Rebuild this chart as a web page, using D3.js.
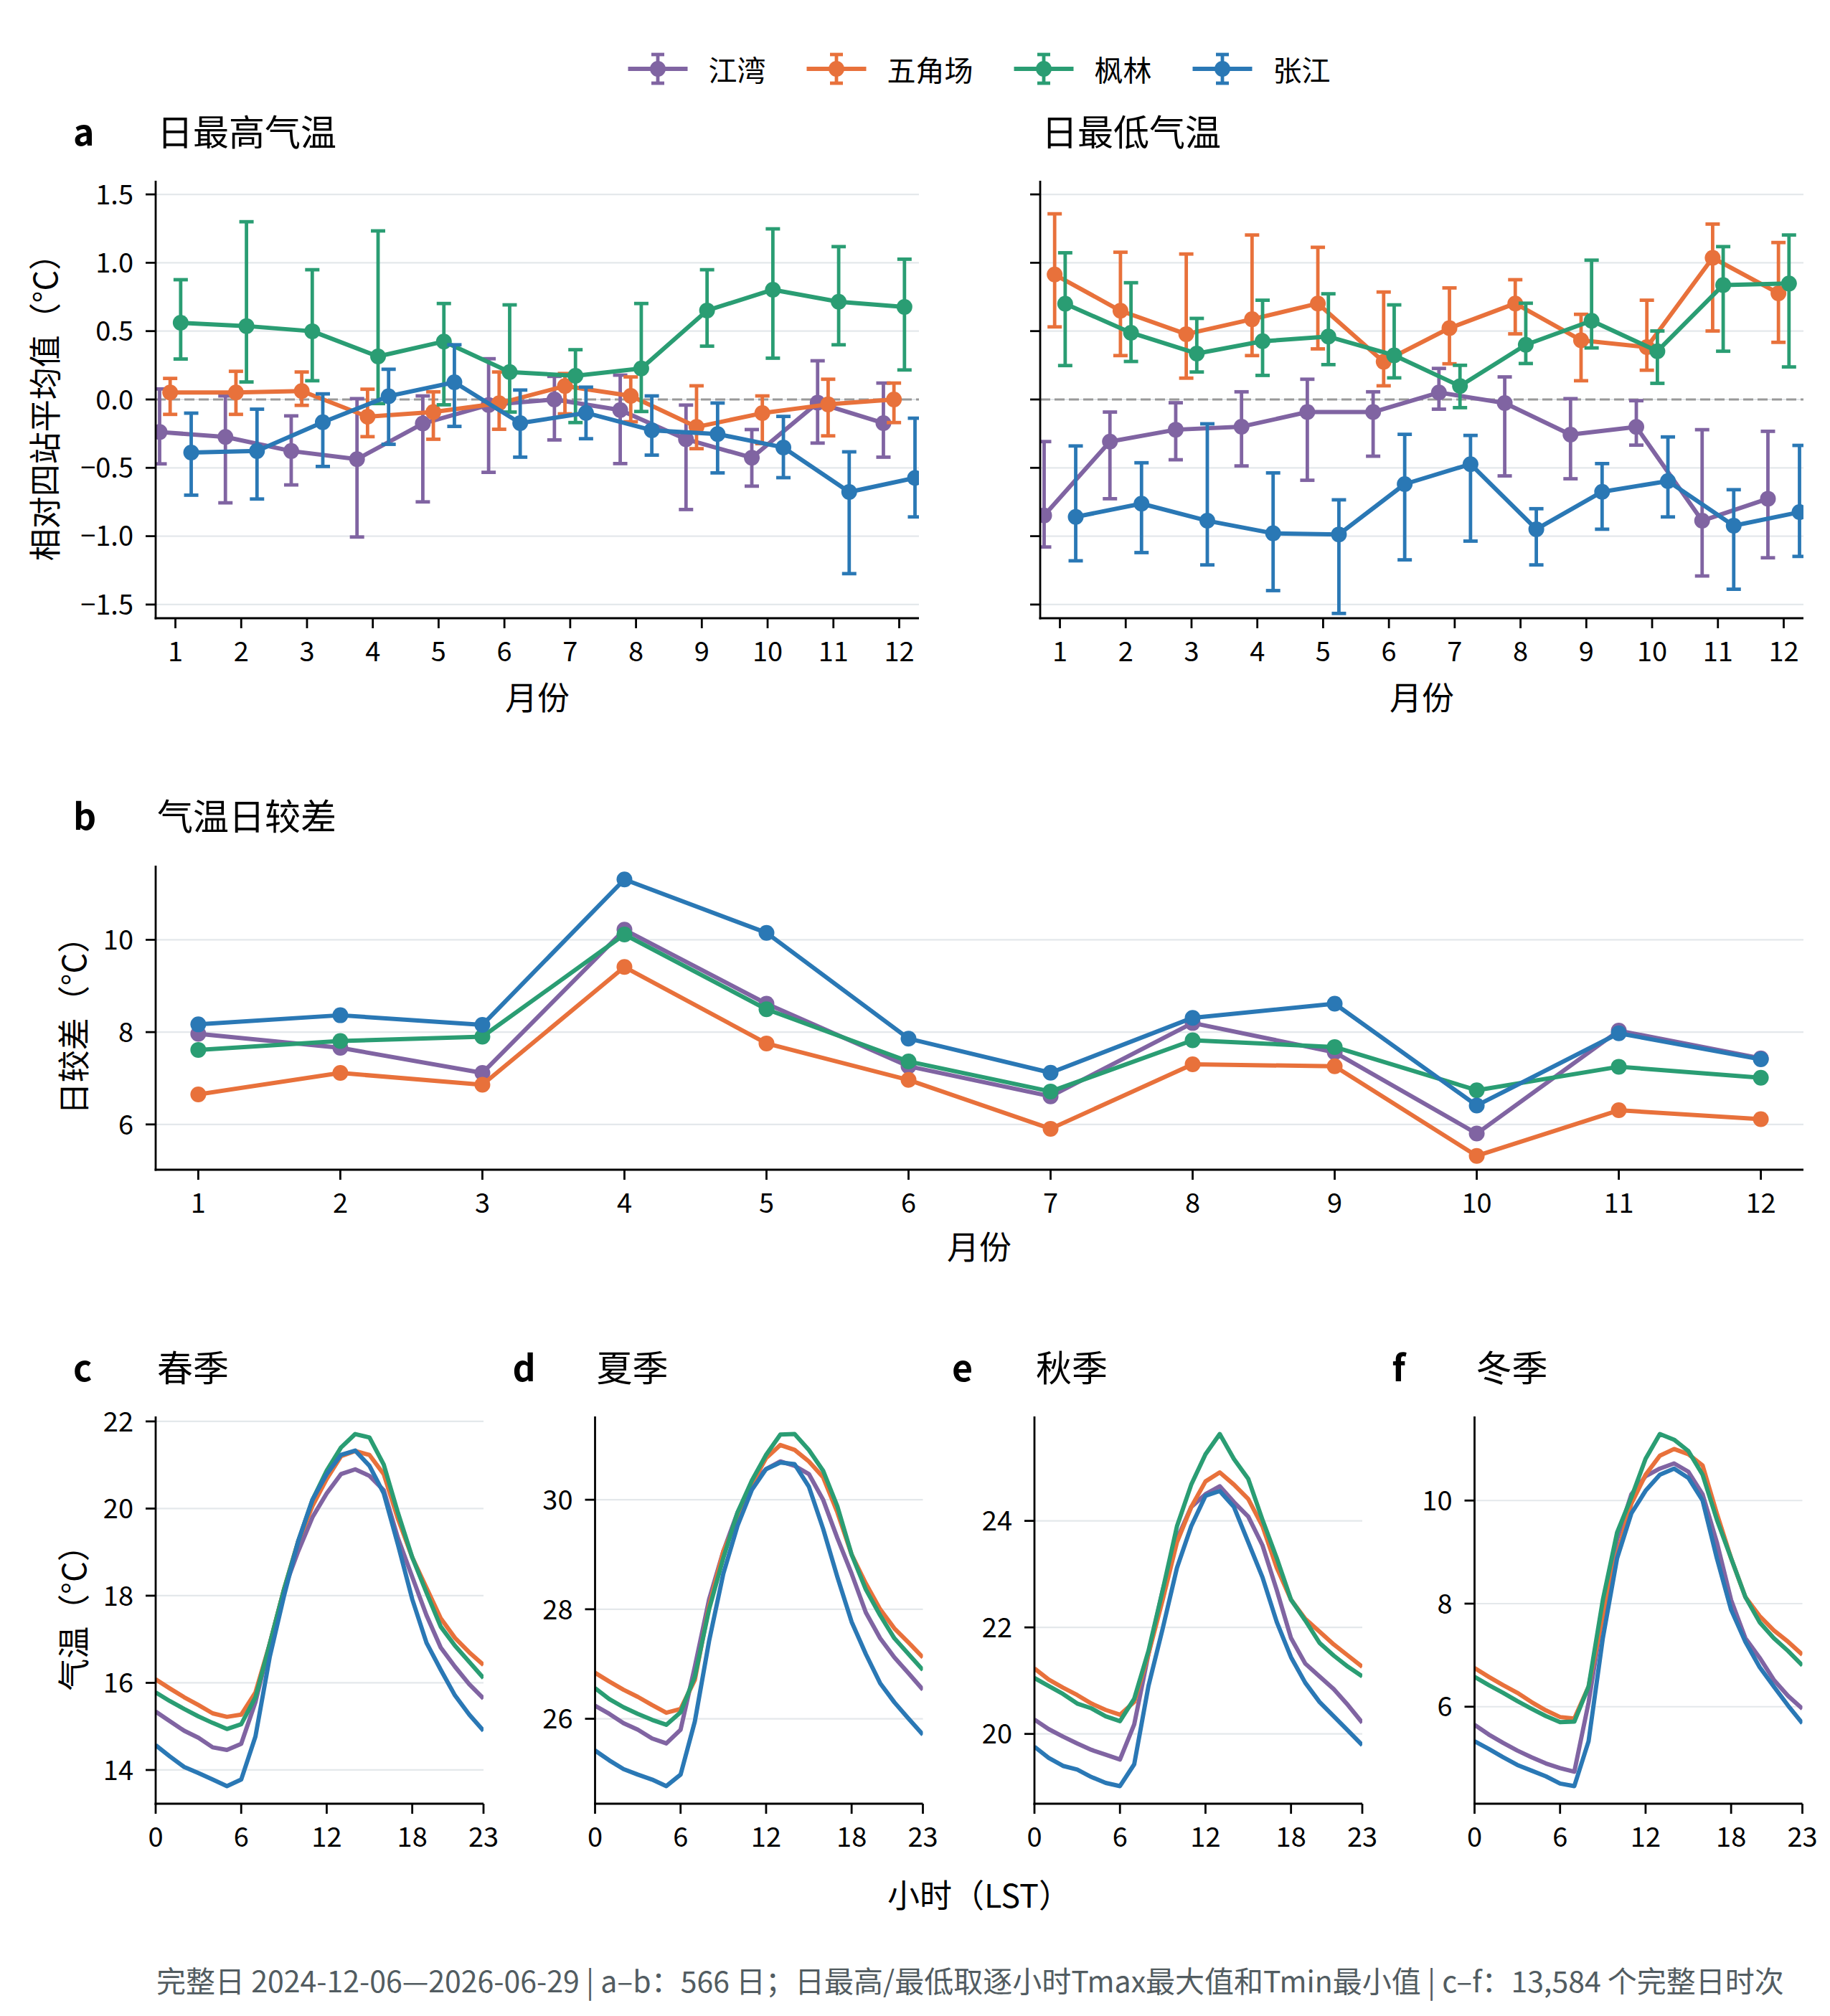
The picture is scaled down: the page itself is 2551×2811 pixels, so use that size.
<!DOCTYPE html>
<html><head><meta charset="utf-8">
<script src="https://cdn.jsdelivr.net/npm/d3@7"></script>
<style>body{margin:0;background:#fff}svg{display:block}</style>
</head><body>
<script>
// ---------------- DATA ----------------
const stations = ["江湾", "五角场", "枫林", "张江"];
const months = [1,2,3,4,5,6,7,8,9,10,11,12];
const hours = [0,1,2,3,4,5,6,7,8,9,10,11,12,13,14,15,16,17,18,19,20,21,22,23];
const yTicksA = [-1.5,-1.0,-0.5,0.0,0.5,1.0,1.5];
const yTicksB = [6,8,10];
const hourTicks = [0,6,12,18,23];
const yTicksSpring = [14,16,18,20,22];
const yTicksSummer = [26,28,30];
const yTicksAutumn = [20,22,24];
const yTicksWinter = [6,8,10];

// Panel a (left): daily Tmax relative to four-station mean (°C), mean / lower / upper
const tmaxJW   = [-0.238,-0.274,-0.377,-0.437,-0.176,-0.040,0.000,-0.077,-0.291,-0.426,-0.024,-0.173];
const tmaxJWlo = [-0.471,-0.756,-0.625,-1.006,-0.749,-0.533,-0.296,-0.469,-0.805,-0.634,-0.319,-0.422];
const tmaxJWhi = [0.077,0.026,-0.120,0.006,0.026,0.298,0.169,0.178,-0.041,-0.220,0.283,0.120];
const tmaxWJC   = [0.051,0.051,0.062,-0.126,-0.092,-0.028,0.098,0.026,-0.201,-0.100,-0.036,0.000];
const tmaxWJClo = [-0.109,-0.109,-0.043,-0.272,-0.291,-0.218,-0.105,-0.163,-0.360,-0.323,-0.266,-0.169];
const tmaxWJChi = [0.154,0.206,0.201,0.075,0.056,0.201,0.190,0.165,0.100,0.026,0.148,0.120];
const tmaxFL   = [0.561,0.537,0.499,0.315,0.424,0.201,0.173,0.227,0.651,0.803,0.715,0.677];
const tmaxFLlo = [0.296,0.128,0.137,-0.030,-0.039,-0.092,-0.169,-0.088,0.390,0.302,0.400,0.216];
const tmaxFLhi = [0.876,1.300,0.949,1.233,0.702,0.692,0.364,0.702,0.949,1.248,1.118,1.026];
const tmaxZJ   = [-0.388,-0.377,-0.167,0.024,0.126,-0.173,-0.098,-0.225,-0.253,-0.351,-0.677,-0.574];
const tmaxZJlo = [-0.700,-0.728,-0.490,-0.328,-0.197,-0.422,-0.287,-0.407,-0.537,-0.572,-1.274,-0.859];
const tmaxZJhi = [-0.100,-0.071,0.041,0.221,0.400,0.069,0.090,0.026,-0.026,-0.124,-0.383,-0.137];

// Panel a (right): daily Tmin relative to four-station mean (°C)
const tminJW   = [-0.848,-0.308,-0.221,-0.199,-0.092,-0.092,0.051,-0.026,-0.257,-0.201,-0.887,-0.726];
const tminJWlo = [-1.079,-0.726,-0.441,-0.486,-0.591,-0.415,-0.071,-0.559,-0.580,-0.334,-1.291,-1.158];
const tminJWhi = [-0.308,-0.092,-0.024,0.056,0.148,0.056,0.227,0.165,0.006,-0.009,-0.221,-0.233];
const tminWJC   = [0.914,0.649,0.478,0.587,0.702,0.276,0.522,0.702,0.433,0.383,1.036,0.777];
const tminWJClo = [0.531,0.321,0.156,0.321,0.370,0.100,0.261,0.480,0.137,0.214,0.501,0.418];
const tminWJChi = [1.358,1.077,1.064,1.203,1.113,0.786,0.816,0.876,0.623,0.726,1.283,1.148];
const tminFL   = [0.700,0.488,0.336,0.426,0.460,0.323,0.098,0.400,0.576,0.353,0.837,0.848];
const tminFLlo = [0.248,0.278,0.201,0.176,0.255,0.158,-0.060,0.263,0.377,0.118,0.353,0.238];
const tminFLhi = [1.073,0.854,0.593,0.726,0.773,0.692,0.250,0.704,1.019,0.501,1.118,1.203];
const tminZJ   = [-0.859,-0.762,-0.887,-0.979,-0.987,-0.619,-0.473,-0.949,-0.675,-0.597,-0.923,-0.824];
const tminZJlo = [-1.180,-1.120,-1.210,-1.398,-1.565,-1.173,-1.036,-1.210,-0.949,-0.859,-1.388,-1.148];
const tminZJhi = [-0.340,-0.463,-0.178,-0.537,-0.734,-0.255,-0.263,-0.799,-0.469,-0.274,-0.660,-0.336];

// Panel b: diurnal temperature range (°C)
const dtrJW  = [7.964,7.660,7.115,10.219,8.615,7.260,6.609,8.198,7.562,5.802,8.031,7.430];
const dtrWJC = [6.651,7.115,6.859,9.411,7.755,6.964,5.906,7.302,7.260,5.318,6.307,6.115];
const dtrFL  = [7.615,7.807,7.900,10.115,8.495,7.365,6.714,7.823,7.677,6.740,7.250,7.010];
const dtrZJ  = [8.167,8.365,8.156,11.307,10.151,7.859,7.120,8.310,8.615,6.410,7.974,7.410];

// Panels c–f: mean diurnal cycle (°C) by season
const springJW  = [15.34,15.12,14.90,14.74,14.52,14.46,14.60,15.56,16.89,18.14,19.02,19.80,20.35,20.79,20.90,20.75,20.42,19.32,18.43,17.55,16.81,16.37,15.97,15.64];
const springWJC = [16.08,15.87,15.67,15.49,15.30,15.22,15.27,15.78,16.89,18.14,19.25,20.06,20.68,21.20,21.32,21.23,20.79,19.76,18.88,18.18,17.48,17.03,16.70,16.41];
const springFL  = [15.78,15.58,15.40,15.23,15.08,14.94,15.05,15.67,16.89,18.14,19.25,20.20,20.87,21.40,21.71,21.63,21.01,19.90,18.88,18.07,17.29,16.85,16.48,16.11];
const springZJ  = [14.57,14.31,14.07,13.93,13.78,13.63,13.78,14.77,16.59,17.99,19.25,20.20,20.79,21.23,21.33,20.98,20.35,19.17,17.92,16.92,16.30,15.71,15.27,14.90];

const summerJW  = [26.24,26.09,25.92,25.80,25.64,25.55,25.80,26.95,28.18,29.06,29.77,30.29,30.56,30.70,30.62,30.47,30.00,29.30,28.65,27.94,27.47,27.12,26.83,26.53];
const summerWJC = [26.84,26.68,26.53,26.40,26.25,26.11,26.18,26.71,28.06,29.06,29.65,30.29,30.76,31.00,30.91,30.70,30.41,29.77,29.00,28.47,28.00,27.65,27.39,27.12];
const summerFL  = [26.56,26.36,26.21,26.09,25.98,25.89,26.12,26.77,28.00,28.94,29.77,30.35,30.82,31.19,31.20,30.91,30.53,29.88,29.00,28.36,27.89,27.47,27.18,26.89];
const summerZJ  = [25.42,25.24,25.08,24.98,24.89,24.77,24.98,25.95,27.42,28.65,29.53,30.18,30.56,30.68,30.65,30.24,29.47,28.59,27.77,27.18,26.65,26.30,26.00,25.71];

const autumnJW  = [20.27,20.09,19.95,19.82,19.70,19.61,19.52,20.18,21.50,22.70,23.66,24.26,24.50,24.65,24.35,24.08,23.54,22.70,21.80,21.32,21.08,20.84,20.54,20.21];
const autumnWJC = [21.23,21.02,20.87,20.73,20.57,20.45,20.36,20.60,21.50,22.52,23.60,24.26,24.74,24.91,24.68,24.41,23.90,23.12,22.52,22.16,21.92,21.68,21.47,21.26];
const autumnFL  = [21.05,20.90,20.75,20.57,20.48,20.33,20.24,20.66,21.56,22.70,23.90,24.68,25.25,25.63,25.16,24.79,24.02,23.30,22.52,22.13,21.71,21.47,21.26,21.08];
const autumnZJ  = [19.76,19.55,19.40,19.33,19.19,19.08,19.02,19.43,20.90,21.98,23.12,23.90,24.47,24.56,24.26,23.60,22.94,22.10,21.44,20.96,20.60,20.33,20.06,19.79];

const winterJW  = [5.65,5.46,5.30,5.15,5.02,4.90,4.81,4.74,6.08,7.82,9.25,10.12,10.47,10.62,10.72,10.56,10.12,9.19,8.07,7.33,6.95,6.52,6.21,5.96];
const winterWJC = [6.75,6.58,6.42,6.27,6.09,5.93,5.80,5.77,6.39,7.76,8.94,9.94,10.50,10.87,11.00,10.90,10.68,9.75,8.88,8.13,7.76,7.48,7.26,7.01];
const winterFL  = [6.58,6.42,6.27,6.11,5.96,5.82,5.70,5.71,6.39,8.07,9.38,10.06,10.81,11.29,11.18,10.96,10.50,9.63,8.88,8.13,7.64,7.33,7.08,6.80];
const winterZJ  = [5.33,5.18,5.02,4.87,4.76,4.65,4.51,4.46,5.33,7.33,8.88,9.75,10.19,10.50,10.62,10.44,10.00,8.88,7.88,7.26,6.77,6.39,6.02,5.68];

const footnote = "完整日 2024-12-06—2026-06-29 | a–b：566 日；日最高/最低取逐小时Tmax最大值和Tmin最小值 | c–f：13,584 个完整日时次";

// ---------------- STYLE / LAYOUT ----------------
const W = 2551, H = 2811;
const FONT = '"Noto Sans CJK SC","Noto Sans",sans-serif';
const COLORS = ["#8064A2", "#E8713B", "#2A9D73", "#2A78B5"];
const DODGE = [-0.24, -0.08, 0.08, 0.24];
const GRID = "#e4e8eb";
const LW = 6, ELW = 4.8, MR = 11, CAP = 10;
const TICK_FS = 38, LAB_FS = 45, TITLE_FS = 50, LEG_FS = 40, NOTE_FS = 41;

const svg = d3.select("body").append("svg")
  .attr("width", W).attr("height", H).attr("viewBox", `0 0 ${W} ${H}`)
  .style("font-family", FONT);
svg.append("rect").attr("width", W).attr("height", H).attr("fill", "#fff");
const defs = svg.append("defs");
let clipN = 0;

function makeClip(x, y) {
  const id = "clip" + (clipN++);
  const [x0, x1] = x.range(), [yb, yt] = y.range();
  defs.append("clipPath").attr("id", id).append("rect")
    .attr("x", x0).attr("y", yt).attr("width", x1 - x0).attr("height", yb - yt);
  return id;
}

function grid(x, y, ticks) {
  const [x0, x1] = x.range();
  svg.append("g").selectAll("line").data(ticks).join("line")
    .attr("x1", x0).attr("x2", x1).attr("y1", d => y(d)).attr("y2", d => y(d))
    .attr("stroke", GRID).attr("stroke-width", 2.2);
}

function frame(x, y, xTicks, yTicks, showYLabels, yFmt, xFmt) {
  const g = svg.append("g");
  const [x0, x1] = x.range(), [yb, yt] = y.range();
  g.append("line").attr("x1", x0).attr("x2", x0).attr("y1", yt).attr("y2", yb + 1.4)
    .attr("stroke", "#000").attr("stroke-width", 2.8);
  g.append("line").attr("x1", x0 - 1.4).attr("x2", x1).attr("y1", yb).attr("y2", yb)
    .attr("stroke", "#000").attr("stroke-width", 2.8);
  g.selectAll(".yt").data(yTicks).join("line")
    .attr("x1", x0 - 14).attr("x2", x0).attr("y1", d => y(d)).attr("y2", d => y(d))
    .attr("stroke", "#000").attr("stroke-width", 2.8);
  g.selectAll(".xt").data(xTicks).join("line")
    .attr("x1", d => x(d)).attr("x2", d => x(d)).attr("y1", yb).attr("y2", yb + 14)
    .attr("stroke", "#000").attr("stroke-width", 2.8);
  if (showYLabels) {
    g.selectAll(".yl").data(yTicks).join("text")
      .attr("x", x0 - 31).attr("y", d => y(d)).attr("dy", "0.36em")
      .attr("text-anchor", "end").attr("font-size", TICK_FS).attr("fill", "#000")
      .text(yFmt);
  }
  g.selectAll(".xl").data(xTicks).join("text")
    .attr("x", d => x(d)).attr("y", yb + 59.5)
    .attr("text-anchor", "middle").attr("font-size", TICK_FS).attr("fill", "#000")
    .text(xFmt);
}

function title(letter, text, axLeft, baseline) {
  if (letter) svg.append("text").attr("x", axLeft - 115).attr("y", baseline)
    .attr("font-size", TITLE_FS).attr("font-weight", "bold").text(letter);
  svg.append("text").attr("x", axLeft + 2).attr("y", baseline)
    .attr("font-size", TITLE_FS).text(text);
}

function ylabel(text, cx, cy) {
  svg.append("text").attr("transform", `translate(${cx},${cy}) rotate(-90)`)
    .attr("text-anchor", "middle").attr("dominant-baseline", "central")
    .attr("font-size", LAB_FS).text(text);
}
function xlabel(text, cx, baseline) {
  svg.append("text").attr("x", cx).attr("y", baseline)
    .attr("text-anchor", "middle").attr("font-size", LAB_FS).text(text);
}

// ---------------- PANEL a ----------------
const tmaxSeries = [
  {m: tmaxJW, lo: tmaxJWlo, hi: tmaxJWhi},
  {m: tmaxWJC, lo: tmaxWJClo, hi: tmaxWJChi},
  {m: tmaxFL, lo: tmaxFLlo, hi: tmaxFLhi},
  {m: tmaxZJ, lo: tmaxZJlo, hi: tmaxZJhi}];
const tminSeries = [
  {m: tminJW, lo: tminJWlo, hi: tminJWhi},
  {m: tminWJC, lo: tminWJClo, hi: tminWJChi},
  {m: tminFL, lo: tminFLlo, hi: tminFLhi},
  {m: tminZJ, lo: tminZJlo, hi: tminZJhi}];

const yA = d3.scaleLinear().domain([-1.6, 1.6]).range([862, 252]);
const xAL = d3.scaleLinear().domain([0.7, 12.3]).range([217, 1281]);
const xAR = d3.scaleLinear().domain([0.7, 12.3]).range([1450, 2514]);
const fmtA = d3.format(".1f");

function errPanel(x, series, showYLabels) {
  grid(x, yA, yTicksA);
  const clip = makeClip(x, yA);
  const g = svg.append("g").attr("clip-path", `url(#${clip})`);
  const [x0, x1] = x.range();
  g.append("line").attr("x1", x0).attr("x2", x1).attr("y1", yA(0)).attr("y2", yA(0))
    .attr("stroke", "#999").attr("stroke-width", 2.8).attr("stroke-dasharray", "14,6");
  series.forEach((s, i) => {
    const c = COLORS[i];
    const pts = months.map((mo, k) => ({x: x(mo + DODGE[i]), y: yA(s.m[k]), lo: yA(s.lo[k]), hi: yA(s.hi[k])}));
    const sg = g.append("g");
    sg.selectAll(".bar").data(pts).join("line")
      .attr("x1", d => d.x).attr("x2", d => d.x).attr("y1", d => d.lo).attr("y2", d => d.hi)
      .attr("stroke", c).attr("stroke-width", ELW);
    sg.selectAll(".capl").data(pts).join("line")
      .attr("x1", d => d.x - CAP).attr("x2", d => d.x + CAP).attr("y1", d => d.lo).attr("y2", d => d.lo)
      .attr("stroke", c).attr("stroke-width", ELW);
    sg.selectAll(".caph").data(pts).join("line")
      .attr("x1", d => d.x - CAP).attr("x2", d => d.x + CAP).attr("y1", d => d.hi).attr("y2", d => d.hi)
      .attr("stroke", c).attr("stroke-width", ELW);
    sg.append("path").datum(pts)
      .attr("d", d3.line().x(d => d.x).y(d => d.y))
      .attr("fill", "none").attr("stroke", c).attr("stroke-width", LW).attr("stroke-linejoin", "round");
    sg.selectAll("circle").data(pts).join("circle")
      .attr("cx", d => d.x).attr("cy", d => d.y).attr("r", MR).attr("fill", c);
  });
  frame(x, yA, months, yTicksA, showYLabels, fmtA, d => d);
}
errPanel(xAL, tmaxSeries, true);
errPanel(xAR, tminSeries, false);
title("a", "日最高气温", 217, 203);
title(null, "日最低气温", 1450, 203);
ylabel("相对四站平均值（°C）", 60, 557);
xlabel("月份", 749, 990);
xlabel("月份", 1982, 990);

// ---------------- PANEL b ----------------
const dtrSeries = [dtrJW, dtrWJC, dtrFL, dtrZJ];
function padded(arrs) {
  const ext = d3.extent(arrs.flat());
  const p = (ext[1] - ext[0]) * 0.05;
  return [ext[0] - p, ext[1] + p];
}
const xB = d3.scaleLinear().domain([0.7, 12.3]).range([217, 2514]);
const yB = d3.scaleLinear().domain(padded(dtrSeries)).range([1631, 1207]);
grid(xB, yB, yTicksB);
{
  const clip = makeClip(xB, yB);
  const g = svg.append("g").attr("clip-path", `url(#${clip})`);
  dtrSeries.forEach((s, i) => {
    const pts = months.map((mo, k) => ({x: xB(mo), y: yB(s[k])}));
    g.append("path").datum(pts).attr("d", d3.line().x(d => d.x).y(d => d.y))
      .attr("fill", "none").attr("stroke", COLORS[i]).attr("stroke-width", LW).attr("stroke-linejoin", "round");
    g.append("g").selectAll("circle").data(pts).join("circle")
      .attr("cx", d => d.x).attr("cy", d => d.y).attr("r", MR).attr("fill", COLORS[i]);
  });
}
frame(xB, yB, months, yTicksB, true, d => d, d => d);
title("b", "气温日较差", 217, 1157);
ylabel("日较差（°C）", 100, 1419);
xlabel("月份", 1365, 1756);

// ---------------- PANELS c–f ----------------
const seasons = [
  {letter: "c", name: "春季", data: [springJW, springWJC, springFL, springZJ], ticks: yTicksSpring},
  {letter: "d", name: "夏季", data: [summerJW, summerWJC, summerFL, summerZJ], ticks: yTicksSummer},
  {letter: "e", name: "秋季", data: [autumnJW, autumnWJC, autumnFL, autumnZJ], ticks: yTicksAutumn},
  {letter: "f", name: "冬季", data: [winterJW, winterWJC, winterFL, winterZJ], ticks: yTicksWinter}];
const seasonLeft = [217, 829.5, 1442, 2055.5];
const seasonW = 457;
seasons.forEach((s, j) => {
  const x = d3.scaleLinear().domain([0, 23]).range([seasonLeft[j], seasonLeft[j] + seasonW]);
  const y = d3.scaleLinear().domain(padded(s.data)).range([2515, 1975]);
  grid(x, y, s.ticks);
  const clip = makeClip(x, y);
  const g = svg.append("g").attr("clip-path", `url(#${clip})`);
  s.data.forEach((arr, i) => {
    g.append("path").datum(hours.map((h, k) => [x(h), y(arr[k])]))
      .attr("d", d3.line())
      .attr("fill", "none").attr("stroke", COLORS[i]).attr("stroke-width", LW).attr("stroke-linejoin", "round");
  });
  frame(x, y, hourTicks, s.ticks, true, d => d, d => d);
  title(s.letter, s.name, seasonLeft[j], 1926);
});
ylabel("气温（°C）", 100, 2245);
xlabel("小时（LST）", 1365, 2660);

// ---------------- LEGEND ----------------
{
  const legY = 96, handle = 83, gapTxt = 29, gapItem = 57;
  const lg = svg.append("g");
  const items = stations.map((name, i) => {
    const gi = lg.append("g");
    const t = gi.append("text").attr("font-size", LEG_FS).attr("dominant-baseline", "central")
      .attr("y", legY).text(name);
    return {g: gi, t: t, w: t.node().getComputedTextLength(), i: i};
  });
  const total = d3.sum(items, d => handle + gapTxt + d.w) + gapItem * (items.length - 1);
  let cx = 1365 - total / 2;
  items.forEach(it => {
    const c = COLORS[it.i], mid = cx + handle / 2;
    it.g.insert("line", "text").attr("x1", cx).attr("x2", cx + handle).attr("y1", legY).attr("y2", legY)
      .attr("stroke", c).attr("stroke-width", LW);
    it.g.insert("line", "text").attr("x1", mid).attr("x2", mid).attr("y1", legY - 20).attr("y2", legY + 20)
      .attr("stroke", c).attr("stroke-width", ELW);
    [legY - 20, legY + 20].forEach(yy => it.g.insert("line", "text")
      .attr("x1", mid - 9).attr("x2", mid + 9).attr("y1", yy).attr("y2", yy)
      .attr("stroke", c).attr("stroke-width", ELW));
    it.g.insert("circle", "text").attr("cx", mid).attr("cy", legY).attr("r", MR).attr("fill", c);
    it.t.attr("x", cx + handle + gapTxt);
    cx += handle + gapTxt + it.w + gapItem;
  });
}

// ---------------- FOOTNOTE ----------------
svg.append("text").attr("x", 218).attr("y", 2778).attr("font-size", NOTE_FS)
  .attr("fill", "#525c61").text(footnote);
</script>
</body></html>
